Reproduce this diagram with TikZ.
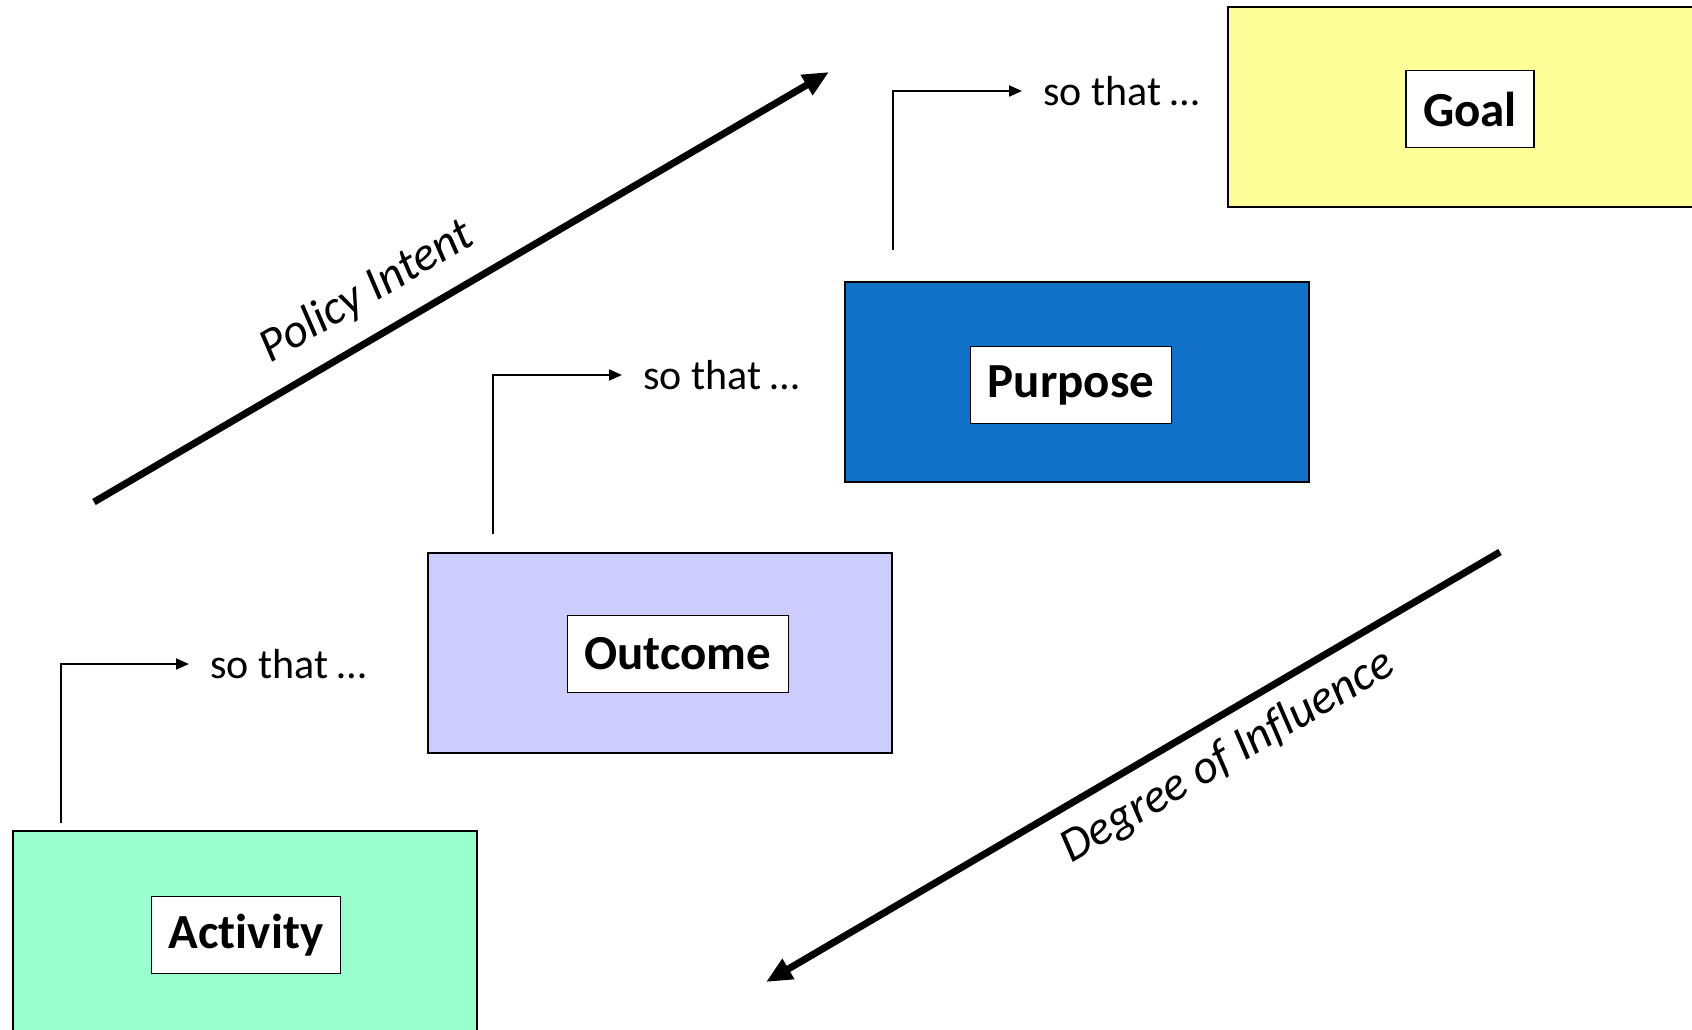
\documentclass[tikz,border=0pt]{standalone}
\usepackage{fontspec}
\setmainfont[Ligatures=NoCommon]{Carlito}
\usetikzlibrary{arrows.meta}
\definecolor{actfill}{HTML}{99FFCC}
\definecolor{outfill}{HTML}{CCCCFF}
\definecolor{purfill}{HTML}{1170C8}
\definecolor{goalfill}{HTML}{FFFF99}
\begin{document}
\begin{tikzpicture}[x=1pt,y=-1pt,
  stage/.style={draw=black, line width=2pt, minimum width=464pt, minimum height=200pt, inner sep=0pt},
  tag/.style={draw=black, fill=white, line width=1.5pt, minimum height=77pt, inner xsep=17pt, inner ysep=0pt,
    font=\fontsize{49}{56}\selectfont\bfseries},
  sothat/.style={font=\fontsize{42}{48}\selectfont, anchor=west, inner sep=0pt},
  link/.style={line width=2pt, -{Triangle[length=13pt,width=11pt]}},
  trend/.style={line width=7pt, -{Triangle[length=26pt,width=22pt]}},
  trendlabel/.style={font=\fontsize{48}{56}\selectfont\itshape, inner sep=0pt}
]
\useasboundingbox (0,0) rectangle (1692,1029);
\clip (0,0) rectangle (1692,1029);

% stage boxes
\node[stage, fill=actfill] (activity) at (245,931) {};
\node[stage, fill=outfill] (outcome) at (660,653) {};
\node[stage, fill=purfill] (purpose) at (1077,382) {};
\node[stage, fill=goalfill, minimum width=500pt] (goal) at (1478,107) {};

% labels on the boxes
\node[tag] (activitytag) at (246,935) {Activity};
\node[tag] (outcometag) at (678,654) {Outcome};
\node[tag] (purposetag) at (1071,385) {Purpose};
\node[tag] (goaltag) at (1470,109) {Goal};

% "so that" steps
\coordinate (s1) at (61,823);
\coordinate (s2) at (493,534);
\coordinate (s3) at (893,250);
\node[sothat] (t1) at (210,664) {so that …};
\node[sothat] (t2) at (643,375) {so that …};
\node[sothat] (t3) at (1043,91) {so that …};
\coordinate (e1) at (189,664);
\coordinate (e2) at (622,375);
\coordinate (e3) at (1022,91);
\draw[link] (s1) |- (e1);
\draw[link] (s2) |- (e2);
\draw[link] (s3) |- (e3);

% trend arrows
\coordinate (pa) at (94,502);
\coordinate (pb) at (829,72);
\coordinate (da) at (1500,552);
\coordinate (db) at (766,982);
\draw[trend] (pa) -- (pb);
\draw[trend] (da) -- (db);
\node[trendlabel, rotate=30.3] (policy) at (367,292) {Policy Intent};
\node[trendlabel, rotate=30.4] (influence) at (1228,757) {Degree of Influence};
\end{tikzpicture}
\end{document}
